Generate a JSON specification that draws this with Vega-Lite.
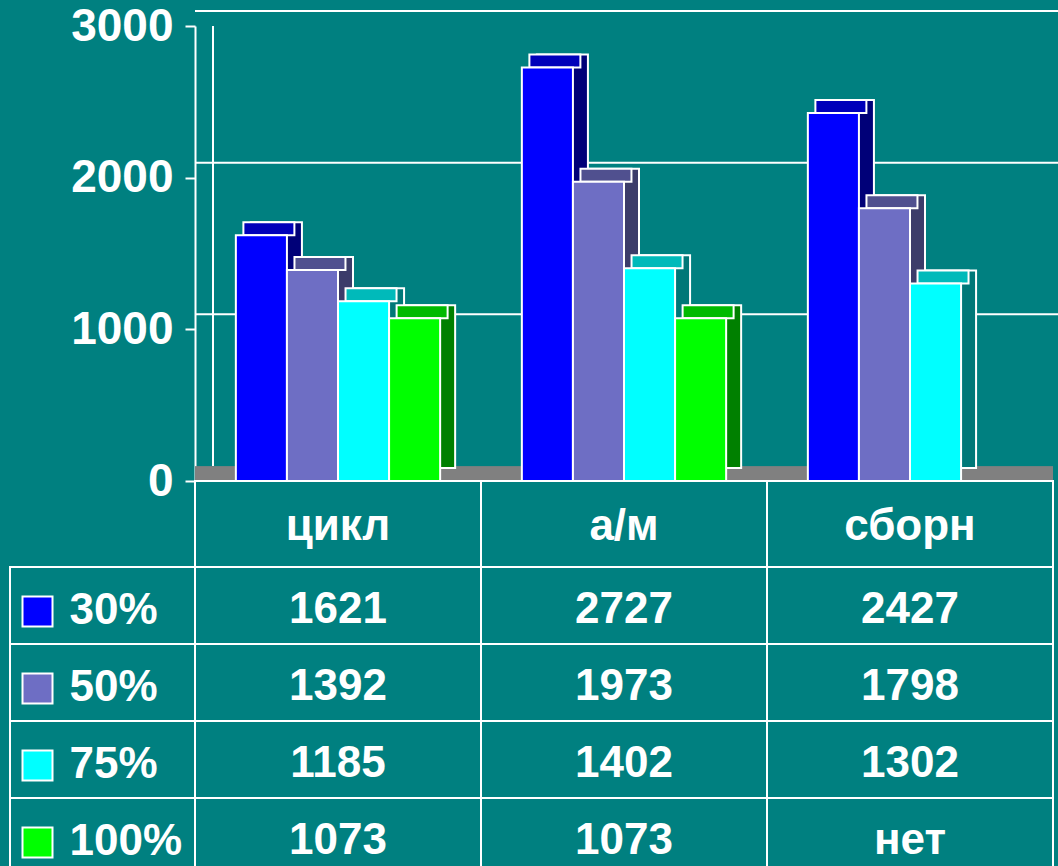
{
  "$schema": "https://vega.github.io/schema/vega-lite/v6.json",
  "width": 858,
  "height": 866,
  "autosize": {"type": "none"},
  "padding": {"left": 195, "top": 0, "right": 5, "bottom": 0},
  "background": "#008080",
  "config": {
    "view": {"stroke": null},
    "font": "Liberation Sans",
    "text": {"font": "Liberation Sans", "fontWeight": "bold", "color": "white"}
  },
  "datasets": {
    "vals": [
      {"category": "цикл", "series": "30%", "value": 1621},
      {"category": "цикл", "series": "50%", "value": 1392},
      {"category": "цикл", "series": "75%", "value": 1185},
      {"category": "цикл", "series": "100%", "value": 1073},
      {"category": "а/м", "series": "30%", "value": 2727},
      {"category": "а/м", "series": "50%", "value": 1973},
      {"category": "а/м", "series": "75%", "value": 1402},
      {"category": "а/м", "series": "100%", "value": 1073},
      {"category": "сборн", "series": "30%", "value": 2427},
      {"category": "сборн", "series": "50%", "value": 1798},
      {"category": "сборн", "series": "75%", "value": 1302},
      {"category": "сборн", "series": "100%", "value": null}
    ],
    "ticks": [{"v": 1000}, {"v": 2000}, {"v": 3000}],
    "cats": [{"category": "цикл"}, {"category": "а/м"}, {"category": "сборн"}],
    "series": [{"series": "30%"}, {"series": "50%"}, {"series": "75%"}, {"series": "100%"}]
  },
  "layer": [
    {
      "layer": [
        {
          "data": {"name": "ticks"},
          "mark": {"type": "rule", "color": "white", "strokeWidth": 2, "xOffset": 18, "yOffset": -15},
          "encoding": {
            "y": {"field": "v", "type": "quantitative", "scale": {"domain": [0, 3000], "range": [481, 26], "nice": false}, "axis": {"values": [0, 1000, 2000, 3000], "format": "d", "title": null, "grid": false, "labelFontSize": 46, "labelFont": "Liberation Sans", "labelFontWeight": "bold", "labelColor": "white", "tickColor": "white", "tickSize": 10, "tickWidth": 2, "domainColor": "white", "domainWidth": 2, "labelPadding": 12}}
          }
        },
        {
          "data": {"name": "ticks"},
          "mark": {"type": "rule", "color": "white", "strokeWidth": 2, "xOffset": 18, "yOffset": -15},
          "encoding": {
            "x": {"datum": "цикл", "type": "nominal", "bandPosition": 0, "scale": {"domain": ["цикл", "а/м", "сборн"], "paddingInner": 0, "paddingOuter": 0}, "axis": null},
            "y": {"datum": 0, "type": "quantitative"},
            "y2": {"datum": 3000}
          }
        },
        {
          "data": {"name": "ticks"},
          "mark": {"type": "rule", "color": "#808080", "strokeWidth": 14, "yOffset": -7.5},
          "encoding": {
            "y": {"datum": 0, "type": "quantitative"}
          }
        },
        {
          "data": {"name": "vals"},
          "mark": {"type": "bar", "stroke": "white", "strokeWidth": 2, "yOffset": -13},
          "encoding": {
            "x": {"field": "category", "type": "nominal", "axis": null},
            "xOffset": {"field": "series", "type": "nominal", "scale": {"domain": ["30%", "50%", "75%", "100%"], "range": [15, 301], "paddingInner": 0, "paddingOuter": 0.8}},
            "y": {"field": "value", "type": "quantitative"},
            "fill": {"field": "series", "type": "nominal", "scale": {"domain": ["30%", "50%", "75%", "100%"], "range": ["#000078", "#3C3C6A", "#007878", "#008000"]}, "legend": null}
          }
        },
        {
          "data": {"name": "vals"},
          "layer": [
            {
              "mark": {"type": "tick", "thickness": 13, "size": 51, "yOffset": -6.5, "opacity": 1},
              "encoding": {
                "color": {"field": "series", "type": "nominal", "scale": {"domain": ["30%", "50%", "75%", "100%"], "range": ["#0000FF", "#6E6EC4", "#00FFFF", "#00FF00"]}, "legend": null}
              }
            },
            {
              "mark": {"type": "tick", "thickness": 13, "size": 51, "yOffset": -6.5, "color": "black", "opacity": 0.27}
            },
            {
              "mark": {"type": "tick", "thickness": 13, "size": 51, "yOffset": -6.5, "fillOpacity": 0, "stroke": "white", "strokeWidth": 2}
            }
          ],
          "encoding": {
            "x": {"field": "category", "type": "nominal", "axis": null},
            "xOffset": {"field": "series", "type": "nominal", "scale": {"domain": ["30%", "50%", "75%", "100%"], "range": [7.5, 293.5], "paddingInner": 0, "paddingOuter": 0.8}},
            "y": {"field": "value", "type": "quantitative"}
          }
        },
        {
          "data": {"name": "vals"},
          "mark": {"type": "bar", "stroke": "white", "strokeWidth": 2},
          "encoding": {
            "x": {"field": "category", "type": "nominal", "axis": null},
            "xOffset": {"field": "series", "type": "nominal", "scale": {"domain": ["30%", "50%", "75%", "100%"], "range": [0, 286], "paddingInner": 0, "paddingOuter": 0.8}},
            "y": {"field": "value", "type": "quantitative"},
            "color": {"field": "series", "type": "nominal", "legend": null}
          }
        }
      ],
      "resolve": {"scale": {"xOffset": "independent"}}
    },
    {
      "data": {"name": "cats"},
      "layer": [
        {
          "mark": {"type": "rect", "fill": "#008080", "stroke": "white", "strokeWidth": 2},
          "encoding": {
            "x": {"field": "category", "type": "nominal", "scale": {"domain": ["цикл", "а/м", "сборн"], "paddingInner": 0, "paddingOuter": 0}, "axis": null},
            "y": {"datum": "head", "type": "nominal", "scale": {"domain": ["head"], "range": [481, 567], "paddingInner": 0, "paddingOuter": 0}, "axis": null}
          }
        },
        {
          "mark": {"type": "text", "fontSize": 44, "dy": 3},
          "encoding": {
            "x": {"field": "category", "type": "nominal"},
            "y": {"datum": "head", "type": "nominal"},
            "text": {"field": "category", "type": "nominal"}
          }
        }
      ]
    },
    {
      "data": {"name": "vals"},
      "layer": [
        {
          "mark": {"type": "rect", "fill": "#008080", "stroke": "white", "strokeWidth": 2},
          "encoding": {
            "x": {"field": "category", "type": "nominal", "scale": {"domain": ["цикл", "а/м", "сборн"], "paddingInner": 0, "paddingOuter": 0}, "axis": null},
            "y": {"field": "series", "type": "nominal", "scale": {"domain": ["30%", "50%", "75%", "100%"], "range": [567, 875], "paddingInner": 0, "paddingOuter": 0}, "axis": null}
          }
        },
        {
          "mark": {"type": "text", "fontSize": 44, "dy": 4},
          "encoding": {
            "x": {"field": "category", "type": "nominal"},
            "y": {"field": "series", "type": "nominal"},
            "text": {"condition": {"test": "datum.value == null", "value": "нет"}, "field": "value", "type": "nominal"}
          }
        }
      ]
    },
    {
      "data": {"name": "series"},
      "layer": [
        {
          "mark": {"type": "rect", "fill": "#008080", "stroke": "white", "strokeWidth": 2},
          "encoding": {
            "x": {"datum": "label", "type": "nominal", "scale": {"domain": ["label"], "range": [-185, 0], "paddingInner": 0, "paddingOuter": 0}, "axis": null},
            "y": {"field": "series", "type": "nominal", "scale": {"domain": ["30%", "50%", "75%", "100%"], "range": [567, 875], "paddingInner": 0, "paddingOuter": 0}, "axis": null}
          }
        },
        {
          "mark": {"type": "point", "shape": "square", "size": 900, "filled": true, "opacity": 1, "stroke": "white", "strokeWidth": 2, "xOffset": -65, "yOffset": 6},
          "encoding": {
            "x": {"datum": "label", "type": "nominal"},
            "y": {"field": "series", "type": "nominal"},
            "color": {"field": "series", "type": "nominal", "legend": null}
          }
        },
        {
          "mark": {"type": "text", "fontSize": 44, "align": "left", "dx": -33, "dy": 5},
          "encoding": {
            "x": {"datum": "label", "type": "nominal"},
            "y": {"field": "series", "type": "nominal"},
            "text": {"field": "series", "type": "nominal"}
          }
        }
      ]
    }
  ],
  "resolve": {"scale": {"x": "independent", "y": "independent"}}
}
